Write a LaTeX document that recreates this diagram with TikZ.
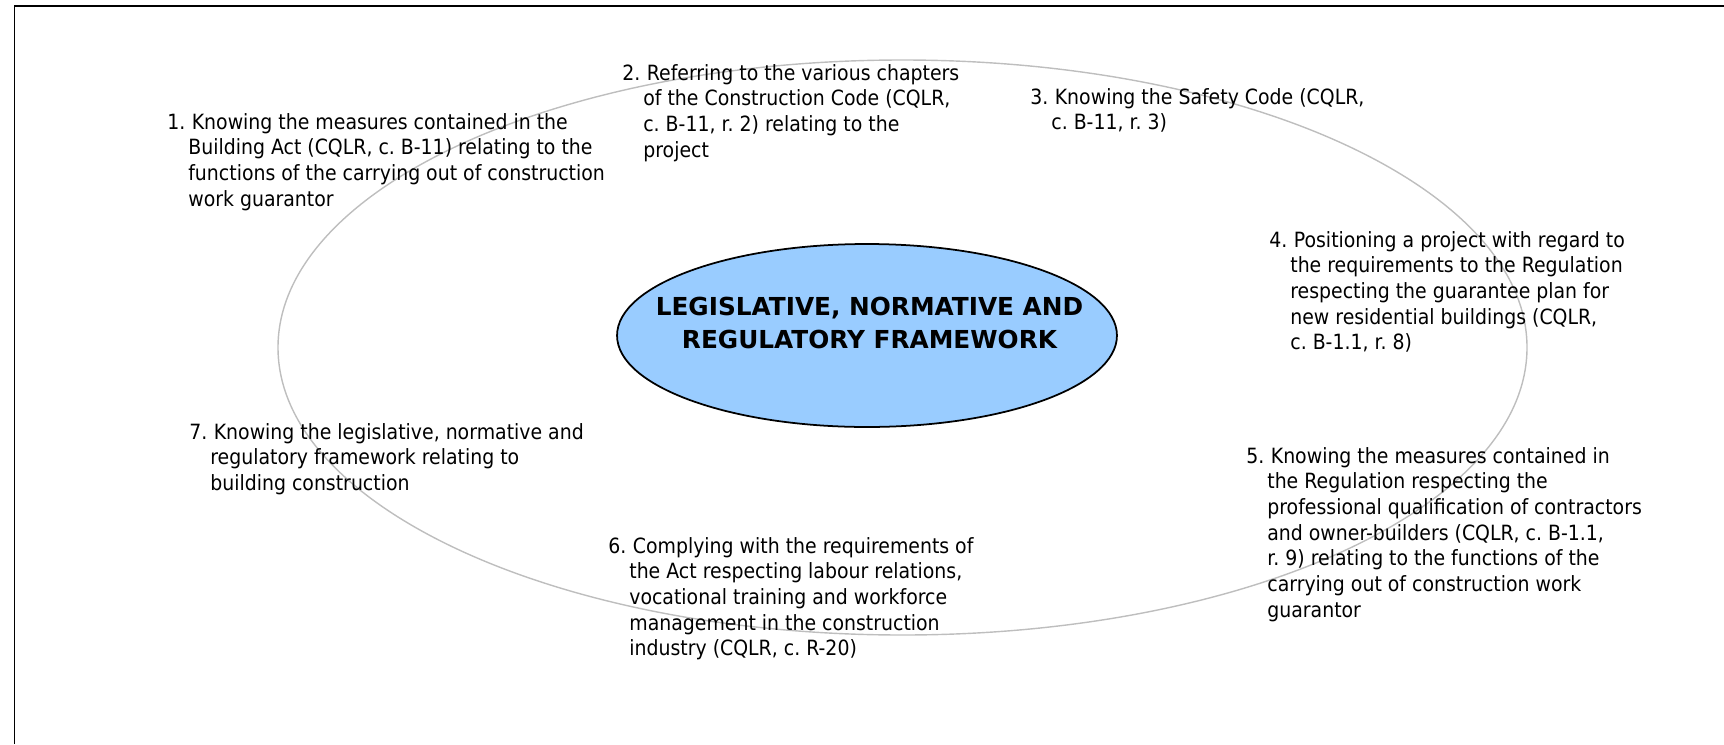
\documentclass[tikz,border=0pt]{standalone}
\usepackage{fontspec}
\setmainfont{DejaVu Sans}
\newfontfamily\goalfont[FakeStretch=0.9]{DejaVu Sans}
\usetikzlibrary{shapes.geometric}
\definecolor{ringgray}{RGB}{190,190,190}
\definecolor{coreblue}{RGB}{153,204,255}
\frenchspacing
\tikzset{
  goaltext/.style={anchor=base west, inner sep=0pt, font=\goalfont\fontsize{11.95}{14.63}\selectfont},
  corebox/.style={ellipse, draw=black, line width=1pt, fill=coreblue, inner sep=0pt,
                  minimum width=10cm, minimum height=3.66cm},
  coretitle/.style={align=center, inner sep=0pt, font=\bfseries\fontsize{14.1}{18.78}\selectfont}
}
% #1 name, #2 base point, #3 number, #4 lines
\newcommand\goal[4]{%
  \node[goaltext] (#1) at (#2) {\begin{tabular}[t]{@{}l@{}l@{}}\makebox[0.42cm][l]{#3.} &
    \begin{tabular}[t]{@{}l@{}}\hspace{0.07cm}#4\end{tabular}\end{tabular}}
}

\begin{document}
\begin{tikzpicture}[x=0.02cm, y=-0.02cm]
        \useasboundingbox (0,0) rectangle (1724,744);
        % Frame
        \draw[line width=1.1pt] (14.5,744) -- (14.5,6) -- (1724,6);

        % The ring
        \draw[ringgray, line width=0.8pt] (902.5,347.5) ellipse [x radius=624.5, y radius=287.5];

        % The core
        \node[corebox] (core) at (867,335.5) {};
        \node[coretitle] (title) at (869.5,323) {LEGISLATIVE, NORMATIVE AND\\REGULATORY FRAMEWORK};

        % The goals
        \goal{g1}{167,129}{1}{Knowing the measures contained in the\\
          Building Act (CQLR, c. B-11) relating to the\\
          functions of the carrying out of construction\\
          work guarantor};
        \goal{g2}{622,80}{2}{Referring to the various chapters\\
          of the Construction Code (CQLR,\\
          c. B-11, r. 2) relating to the\\
          project};
        \goal{g3}{1030,104}{3}{Knowing the Safety Code (CQLR,\\
          c. B-11, r. 3)};
        \goal{g4}{1269,247}{4}{Positioning a project with regard to\\
          the requirements to the Regulation\\
          respecting the guarantee plan for\\
          new residential buildings (CQLR,\\
          c. B-1.1, r. 8)};
        \goal{g5}{1246,463}{5}{Knowing the measures contained in\\
          the Regulation respecting the\\
          professional qualification of contractors\\
          and owner-builders (CQLR, c. B-1.1,\\
          r. 9) relating to the functions of the\\
          carrying out of construction work\\
          guarantor};
        \goal{g6}{608,553}{6}{Complying with the requirements of\\
          the Act respecting labour relations,\\
          vocational training and workforce\\
          management in the construction\\
          industry (CQLR, c. R-20)};
        \goal{g7}{189,439}{7}{Knowing the legislative, normative and\\
          regulatory framework relating to\\
          building construction};
\end{tikzpicture}
\end{document}
